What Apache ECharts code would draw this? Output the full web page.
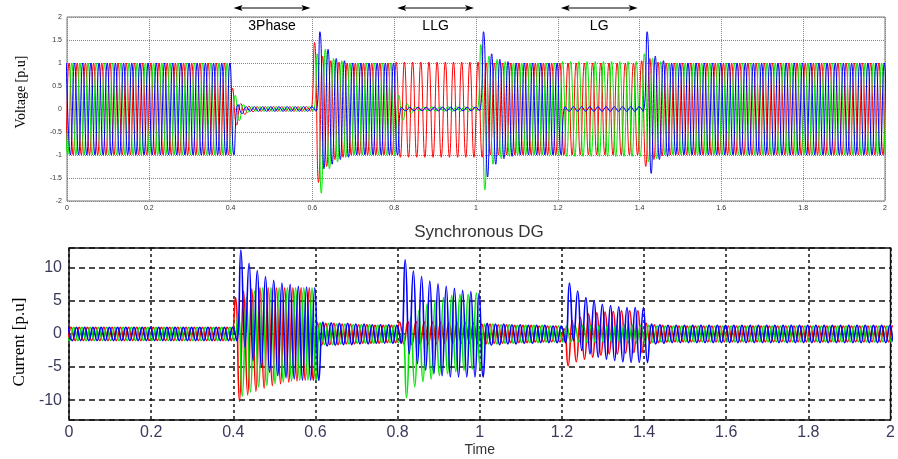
<!DOCTYPE html>
<html>
<head>
<meta charset="utf-8">
<script src="https://cdn.jsdelivr.net/npm/echarts@6/dist/echarts.min.js"></script>
<style>
  html, body { margin: 0; padding: 0; background: #fff; }
  #main { width: 898px; height: 459px; }
</style>
</head>
<body>
<div id="main"></div>
<script>
// fault windows (s)
const faultStart = [0.4, 0.8, 1.2];
const faultEnd = [0.6, 1.0, 1.4];
const faultNames = ['3Phase', 'LLG', 'LG'];

// 50 Hz, cycles in each window: 0-0.4, 0.4-0.6, 0.6-0.8, 0.8-1.0, 1.0-1.2, 1.2-1.4, 1.4-2.0
const T_CYCLE = 0.02;
const winCycles = [20, 10, 10, 10, 10, 10, 30];

// voltage peaks per cycle (upper / lower), one entry per window
// a number = same peak all the window, a list = cycle by cycle (last one held)
const vRedHi = [1, [0.45, 0.12, 0.06, 0.05], [1.45, 1.15, 1.05, 1.02, 1], 1.02, [1.02, 1], 1, [1.05, 1.1, 1.02, 1]];
const vRedLo = [-1, [-0.35, -0.12, -0.06, -0.05], [-1.6, -1.25, -1.1, -1.05, -1], -1.05, [-1.05, -1], -1, [-1.25, -1.1, -1.02, -1]];
const vGreenHi = [1, [0.3, 0.1, 0.05], [1.2, 1.3, 1.1, 1.05, 1], [0.3, 0.12, 0.05], [1.4, 1.15, 1.08, 1.03, 1], 1.03, [1.2, 1.1, 1.03, 1]];
const vGreenLo = [-1, [-0.25, -0.08, -0.05], [-1.83, -1.3, -1.15, -1.05, -1], [-0.25, -0.1, -0.05], [-1.76, -1.2, -1.08, -1.03, -1], -1.03, [-1.15, -1.08, -1]];
const vBlueHi = [1, [0.1, 0.05], [1.68, 1.3, 1.1, 1.05, 1], 0.04, [1.68, 1.2, 1.08, 1.03, 1], 0.05, [1.68, 1.15, 1.05, 1]];
const vBlueLo = [-1, [-0.1, -0.05], [-1.3, -1.2, -1.1, -1.05, -1], -0.04, [-1.48, -1.2, -1.08, -1.03, -1], -0.05, [-1.4, -1.1, -1.03, -1]];

// current peaks per cycle
const cRedHi = [1, [5.5, 6.5, 6.8, 7.0, 7.0, 7.0, 7.0, 7.0, 7.0, 7.0], [1.7, 1.6, 1.6, 1.5, 1.5, 1.4, 1.4, 1.3, 1.3, 1.3],
  [1.8, 1.9, 1.9, 1.8, 1.8, 1.8, 1.7, 1.7, 1.7, 1.7], [1.5, 1.5, 1.4, 1.4, 1.3, 1.3, 1.3, 1.2, 1.2, 1.2],
  [0.8, 2.0, 2.5, 3.0, 3.2, 3.3, 3.4, 3.5, 3.5, 3.5], [1.6, 1.4, 1.3, 1.2]];
const cRedLo = [-1, [-10.2, -9.2, -8.7, -8.2, -7.8, -7.5, -7.3, -7.1, -7.0, -7.0], [-1.7, -1.6, -1.6, -1.5, -1.5, -1.4, -1.4, -1.4, -1.3, -1.3],
  [-1.5, -1.6, -1.5, -1.5, -1.5, -1.4, -1.4, -1.4, -1.4, -1.4], [-1.5, -1.4, -1.4, -1.3, -1.3, -1.3, -1.2, -1.2, -1.2, -1.2],
  [-4.8, -4.2, -3.8, -3.5, -3.2, -3.0, -3.0, -2.9, -2.8, -2.8], [-1.4, -1.3, -1.2]];
const cGreenHi = [1, [3.0, 5.5, 6.5, 7.0, 7.0, 7.0, 7.0, 7.0, 7.0, 7.0], [1.7, 1.6, 1.5, 1.5, 1.4, 1.4, 1.4, 1.3, 1.3, 1.3],
  [0.5, 2.5, 3.5, 4.5, 5.0, 5.5, 5.8, 6.0, 6.0, 6.2], [1.5, 1.5, 1.4, 1.4, 1.3, 1.3, 1.3, 1.3, 1.2, 1.2],
  [1.2, 1.2, 1.3, 1.3, 1.3, 1.3, 1.3, 1.3, 1.3, 1.3], [1.3, 1.2]];
const cGreenLo = [-1, [-9.4, -8.8, -8.0, -7.8, -7.5, -7.3, -7.1, -7.0, -7.0, -7.0], [-1.6, -1.6, -1.5, -1.5, -1.4, -1.4, -1.4, -1.3, -1.3, -1.3],
  [-9.6, -8.0, -7.2, -6.8, -6.3, -6.0, -5.7, -5.5, -5.3, -5.2], [-1.5, -1.5, -1.4, -1.4, -1.3, -1.3, -1.3, -1.2, -1.2, -1.2],
  [-1.2, -1.2, -1.3, -1.3, -1.3, -1.3, -1.3, -1.3, -1.3, -1.3], [-1.3, -1.2]];
const cBlueHi = [1, [12.7, 10.7, 9.6, 8.7, 8.1, 7.7, 7.5, 7.2, 7.1, 7.0], [1.8, 1.7, 1.6, 1.6, 1.5, 1.5, 1.4, 1.4, 1.4, 1.3],
  [11.2, 9.5, 8.7, 8.0, 7.6, 7.2, 6.9, 6.6, 6.4, 6.2], [1.6, 1.5, 1.5, 1.4, 1.4, 1.3, 1.3, 1.3, 1.2, 1.2],
  [7.7, 6.5, 5.5, 5.0, 4.5, 4.3, 4.1, 4.0, 4.0, 4.0], [1.5, 1.4, 1.3]];
const cBlueLo = [-1, [-2.0, -4.0, -5.0, -5.8, -6.3, -6.6, -6.8, -7.0, -7.0, -7.0], [-1.8, -1.7, -1.6, -1.6, -1.5, -1.5, -1.4, -1.4, -1.4, -1.4],
  [-3.0, -4.5, -5.5, -6.0, -6.3, -6.5, -6.5, -6.5, -6.5, -6.5], [-1.7, -1.6, -1.5, -1.5, -1.4, -1.4, -1.3, -1.3, -1.3, -1.3],
  [-1.0, -2.5, -3.0, -3.5, -3.8, -4.0, -4.2, -4.3, -4.3, -4.3], [-1.5, -1.4, -1.3]];

const xTicks = { min: 0, max: 2, interval: 0.2 };

function expand(spec) {
  const out = [];
  spec.forEach((s, w) => {
    for (let i = 0; i < winCycles[w]; i++) {
      out.push(Array.isArray(s) ? s[Math.min(i, s.length - 1)] : s);
    }
  });
  return out;
}

// one point per half cycle peak, smoothed by echarts
function wave(hiSpec, loSpec, phase) {
  const hi = expand(hiSpec), lo = expand(loSpec);
  const pts = [];
  for (let k = -1; k <= hi.length; k++) {
    const i = Math.min(Math.max(k, 0), hi.length - 1);
    const t0 = (k + phase) * T_CYCLE;
    pts.push([t0 + 0.25 * T_CYCLE, hi[i]], [t0 + 0.75 * T_CYCLE, lo[i]]);
  }
  return pts;
}

function line(data, color, grid, width) {
  return {
    type: 'line', xAxisIndex: grid, yAxisIndex: grid, data: data,
    showSymbol: false, smooth: 0.5, silent: true,
    lineStyle: { color: color, width: width }, itemStyle: { color: color }
  };
}

const RED = '#ff0000', GREEN = '#00e600', BLUE = '#0000ff';

var chart = echarts.init(document.getElementById('main'));
var option = {
  animation: false,
  grid: [
    { left: 67, right: 13, top: 17, height: 184, show: true, borderColor: '#777', borderWidth: 1 },
    { left: 69, right: 5, top: 248, height: 172, show: true, borderColor: '#111', borderWidth: 1.5 }
  ],
  xAxis: [
    {
      type: 'value', gridIndex: 0, min: xTicks.min, max: xTicks.max, interval: xTicks.interval,
      axisLine: { show: false }, axisTick: { show: false },
      axisLabel: { fontSize: 7, color: '#333', margin: 4 },
      splitLine: { lineStyle: { color: '#888', type: 'dotted', width: 1 } }
    },
    {
      type: 'value', gridIndex: 1, min: xTicks.min, max: xTicks.max, interval: xTicks.interval,
      axisLine: { show: false }, axisTick: { show: false },
      axisLabel: { fontSize: 16, color: '#3a3a5c', margin: 5, fontFamily: 'Liberation Sans' },
      name: 'Time', nameLocation: 'middle', nameGap: 23,
      nameTextStyle: { fontSize: 14, color: '#333', fontFamily: 'Liberation Sans' },
      splitLine: { lineStyle: { color: '#111', type: [3, 3], width: 1.5 } }
    }
  ],
  yAxis: [
    {
      type: 'value', gridIndex: 0, min: -2, max: 2, interval: 0.5,
      axisLine: { show: false }, axisTick: { show: false },
      axisLabel: { fontSize: 7, color: '#333', margin: 5 },
      splitLine: { lineStyle: { color: '#888', type: 'dotted', width: 1 } }
    },
    {
      type: 'value', gridIndex: 1, min: -13, max: 13, splitNumber: 5,
      axisLine: { show: false }, axisTick: { show: false },
      axisLabel: { fontSize: 16, color: '#3a3a5c', margin: 7, fontFamily: 'Liberation Sans', showMinLabel: false, showMaxLabel: false },
      splitLine: { lineStyle: { color: '#111', type: [6, 4], width: 1.5 } }
    }
  ],
  graphic: [
    { type: 'text', x: 21, y: 92, rotation: Math.PI / 2,
      style: { text: 'Voltage [p.u]', font: '14px "Liberation Serif"', fill: '#000', align: 'center', verticalAlign: 'middle' } },
    { type: 'text', x: 20, y: 342, rotation: Math.PI / 2,
      style: { text: 'Current [p.u]', font: '17px "Liberation Serif"', fill: '#000', align: 'center', verticalAlign: 'middle' } },
    { type: 'text', x: 479, y: 232,
      style: { text: 'Synchronous DG', font: '17px "Liberation Sans"', fill: '#333', align: 'center', verticalAlign: 'middle' } }
  ],
  series: [
    line(wave(vRedHi, vRedLo, 0), RED, 0, 1),
    line(wave(vGreenHi, vGreenLo, 1 / 3), GREEN, 0, 1),
    line(wave(vBlueHi, vBlueLo, 2 / 3), BLUE, 0, 1),
    line(wave(cRedHi, cRedLo, 0), RED, 1, 1.6),
    line(wave(cGreenHi, cGreenLo, 1 / 3), GREEN, 1, 1.6),
    line(wave(cBlueHi, cBlueLo, 2 / 3), BLUE, 1, 1.6)
  ]
};
chart.setOption(option);

// fault arrows above the voltage plot, placed through the axis scale
var arrows = [];
faultStart.forEach(function (s, i) {
  var p1 = chart.convertToPixel({ gridIndex: 0 }, [s, 2]);
  var p2 = chart.convertToPixel({ gridIndex: 0 }, [faultEnd[i], 2]);
  var x1 = p1[0] + 3, x2 = p2[0] - 2, y = p1[1] - 9;
  arrows.push(
    { type: 'line', shape: { x1: x1 + 6, y1: y, x2: x2 - 6, y2: y }, style: { stroke: '#000', lineWidth: 1 } },
    { type: 'polygon', shape: { points: [[x1, y], [x1 + 9, y - 3], [x1 + 7, y], [x1 + 9, y + 3]] }, style: { fill: '#000' } },
    { type: 'polygon', shape: { points: [[x2, y], [x2 - 9, y - 3], [x2 - 7, y], [x2 - 9, y + 3]] }, style: { fill: '#000' } },
    { type: 'text', x: (x1 + x2) / 2, y: y + 18,
      style: { text: faultNames[i], font: '14px "Liberation Sans"', fill: '#000', align: 'center', verticalAlign: 'middle' } }
  );
});
chart.setOption({ graphic: option.graphic.concat(arrows) });
</script>
</body>
</html>
